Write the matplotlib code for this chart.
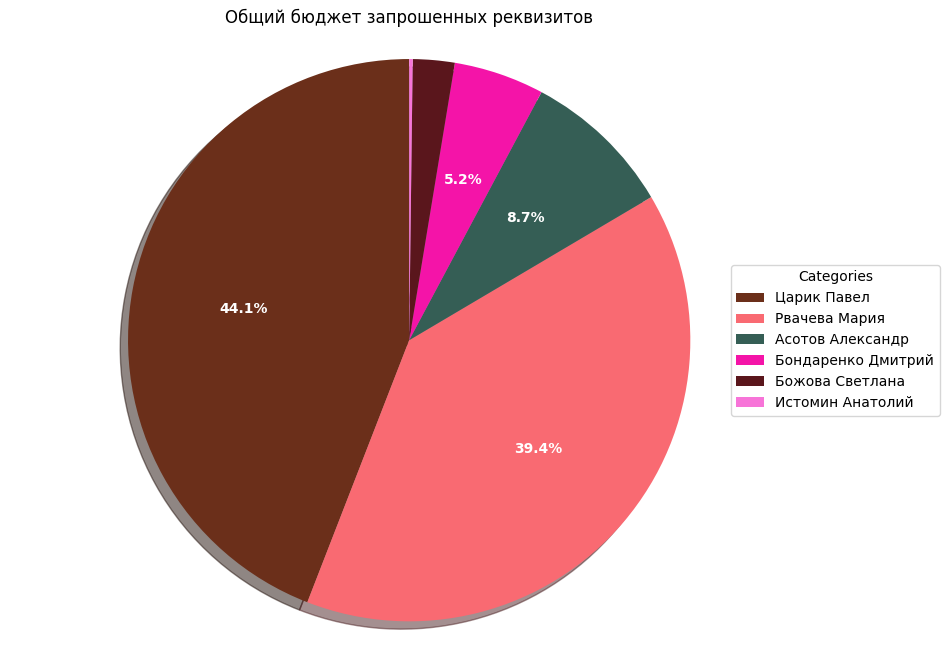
import matplotlib
matplotlib.use("Agg")
import matplotlib.pyplot as plt

categories = ["Царик Павел", "Рвачева Мария", "Асотов Александр",
              "Бондаренко Дмитрий", "Божова Светлана", "Истомин Анатолий"]
values = [44.1, 39.4, 8.7, 5.2, 2.4, 0.2]
colors = ["#6B2F1A", "#F96A72", "#355E55", "#F414A8", "#5A161C", "#F774D8"]

fig, ax = plt.subplots(figsize=(9.45, 6.58), dpi=100)
wedges, texts, autotexts = ax.pie(
    values, colors=colors, startangle=90, shadow=True,
    autopct=lambda p: f"{p:.1f}%" if p > 5 else "",
    textprops=dict(color="white", fontweight="bold", fontsize=10))
ax.axis("equal")
ax.set_title("Общий бюджет запрошенных реквизитов", fontsize=12)
fig.subplots_adjust(left=0.0, right=0.866, top=0.953, bottom=0.013)
ax.legend(wedges, categories, title="Categories", loc="center left",
          bbox_to_anchor=(724 / 945, 0.483), bbox_transform=fig.transFigure)
fig.savefig("out.png", dpi=100)
